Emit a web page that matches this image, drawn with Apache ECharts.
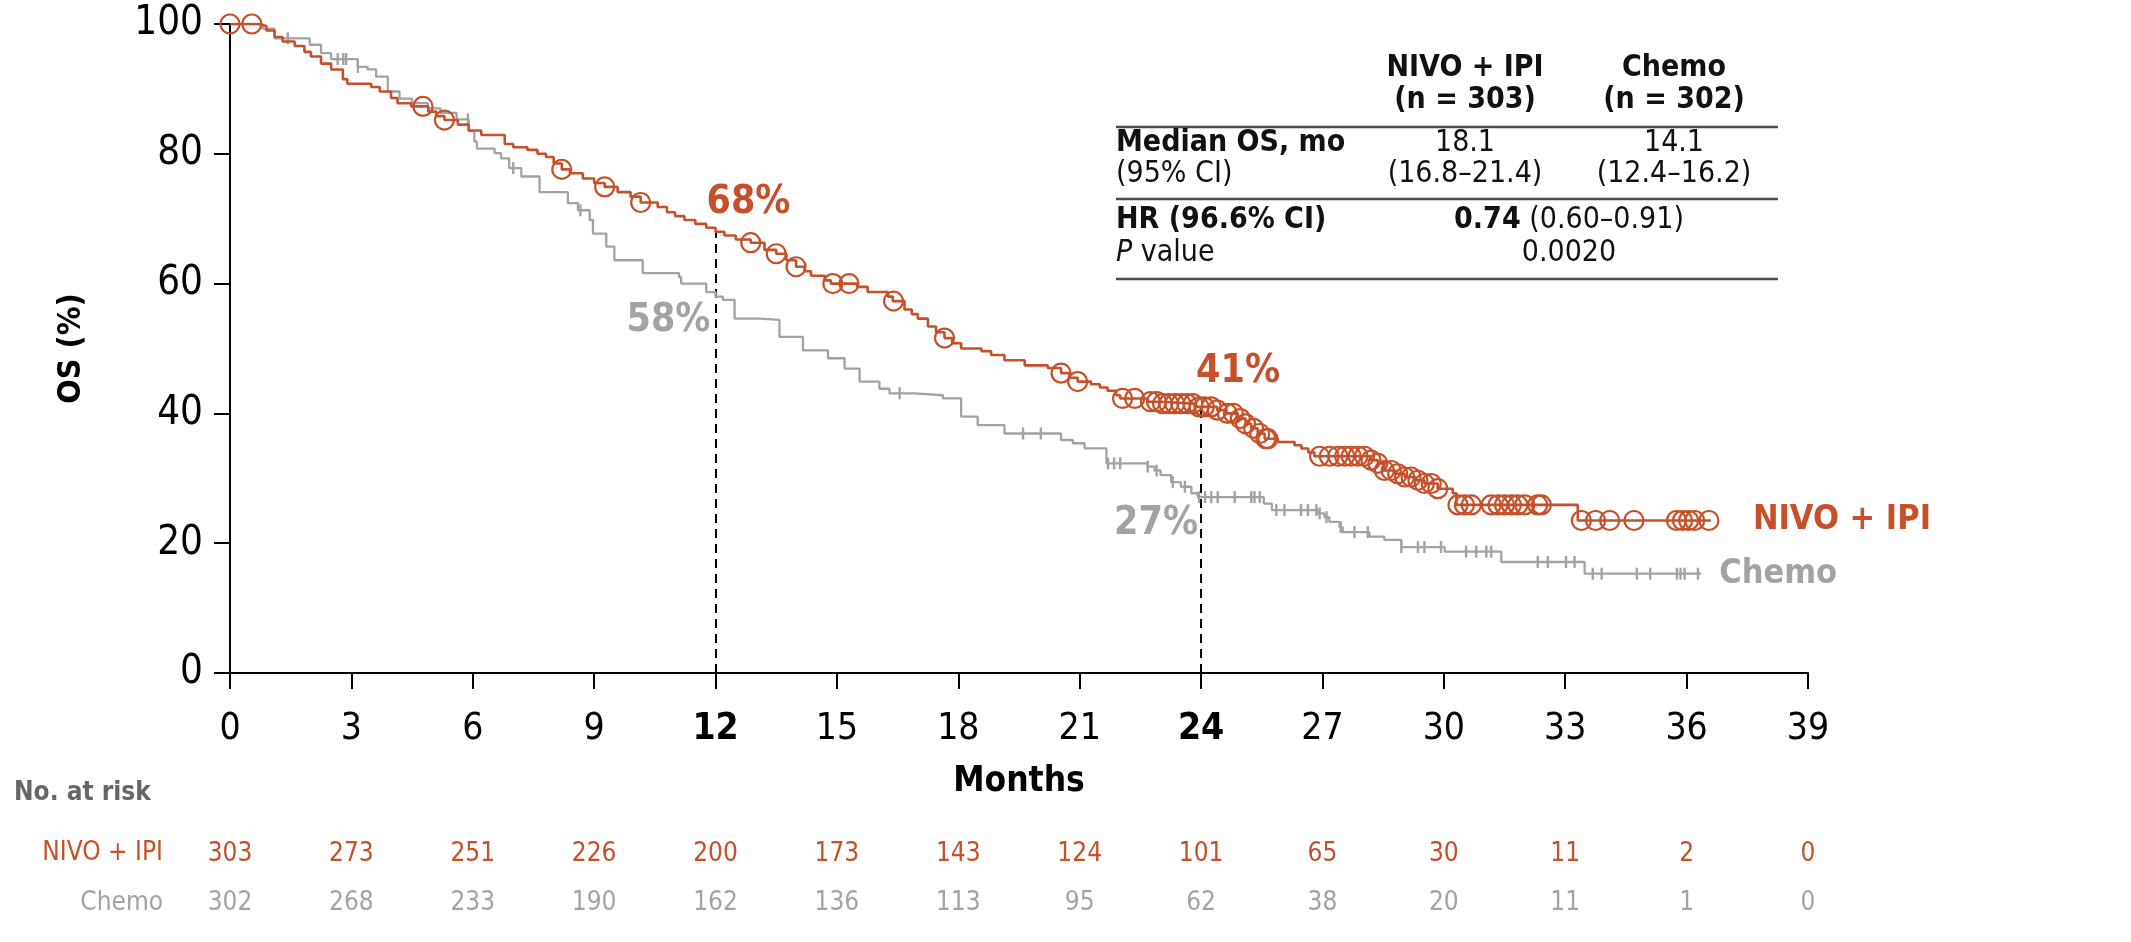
<!DOCTYPE html>
<html>
<head>
<meta charset="utf-8">
<title>Overall survival – NIVO + IPI vs Chemo</title>
<script src="https://cdn.jsdelivr.net/npm/echarts@6/dist/echarts.min.js"></script>
<style>
  html, body { margin: 0; padding: 0; background: #ffffff; }
  #chart { width: 2131px; height: 942px; }
</style>
</head>
<body>
<div id="chart"></div>
<script>
// ---- Kaplan–Meier data: [month, survival %] after each drop ----
const nivoSteps = [
  [0,100],[0.7,99.7],[0.9,99.0],[1.1,98.0],[1.3,97.3],[1.6,96.6],[1.84,95.7],[2.0,95.0],[2.25,93.9],
  [2.5,93.0],[2.79,91.5],[2.9,90.8],[3.49,90.3],[3.7,89.6],[3.98,88.6],[4.14,87.8],[4.48,87.3],
  [4.9,86.5],[5.1,85.8],[5.3,85.2],[5.63,84.5],[5.9,83.6],[6.21,82.9],[6.79,81.5],[7.0,81.0],
  [7.35,80.6],[7.6,80.0],[7.81,79.5],[8.0,78.5],[8.2,77.6],[8.4,77.0],[8.72,76.2],[9.0,75.5],
  [9.26,74.9],[9.58,74.1],[9.9,73.4],[10.15,72.5],[10.57,71.8],[10.8,71.0],[11.0,70.4],[11.23,69.8],
  [11.5,69.2],[11.77,68.6],[12.0,68.0],[12.22,67.4],[12.5,66.8],[12.87,66.3],[13.21,65.2],[13.5,64.6],
  [13.75,63.6],[13.99,62.6],[14.2,61.9],[14.36,61.2],[14.7,60.5],[14.85,60.0],[15.5,59.5],[15.76,58.7],
  [16.26,58.0],[16.38,57.3],[16.67,56.0],[16.85,55.3],[17.0,54.6],[17.25,53.4],[17.45,52.5],[17.66,51.6],
  [17.85,50.8],[18.07,50.0],[18.57,49.6],[18.81,49.0],[19.14,48.2],[19.64,47.4],[20.21,47.0],[20.54,46.2],
  [20.75,45.5],[20.95,44.9],[21.28,44.5],[21.5,44.0],[21.69,43.5],[21.9,42.8],[22.0,42.3],[22.68,41.8],
  [23.0,41.5],[23.84,41.0],[24.4,40.5],[24.6,40.0],[24.91,39.2],[25.1,38.4],[25.24,37.7],[25.4,36.9],
  [25.57,36.1],[25.9,35.6],[26.31,35.1],[26.48,34.6],[26.65,34.0],[26.8,33.4],[28.2,32.8],[28.37,32.3],
  [28.53,31.2],[28.8,30.7],[29.03,30.2],[29.3,29.7],[29.52,29.2],[29.85,28.4],[30.22,27.7],[30.31,25.9],
  [33.31,23.5],[36.6,23.5]
];
const chemoSteps = [
  [0,100],[0.8,99.3],[1.1,97.8],[1.97,96.8],[2.25,95.5],[2.5,94.6],[3.16,93.4],[3.4,93.0],[3.61,91.9],
  [3.9,89.6],[4.19,88.5],[4.5,87.8],[4.89,87.0],[5.2,86.3],[5.6,85.3],[5.9,83.5],[6.04,81.9],[6.1,80.8],
  [6.54,80.1],[6.7,79.3],[6.9,77.8],[7.2,76.5],[7.65,74.1],[8.35,72.4],[8.6,71.3],[8.89,69.8],[8.97,67.7],
  [9.3,65.7],[9.5,63.6],[10.2,61.6],[11.1,61.0],[11.15,60.0],[11.77,58.7],[12.0,58.0],[12.18,57.5],
  [12.47,54.6],[13.09,54.4],[13.58,51.8],[14.16,49.7],[14.78,48.5],[15.19,46.9],[15.56,44.9],[16.05,43.8],
  [16.3,43.1],[16.92,42.8],[17.62,42.3],[18.07,39.5],[18.48,38.2],[19.14,36.9],[20.54,35.9],[20.83,35.4],
  [21.12,34.6],[21.66,32.3],[22.68,31.8],[22.85,31.2],[23.0,30.5],[23.26,29.4],[23.5,28.7],[23.76,27.7],
  [23.92,27.1],[25.55,26.1],[25.75,25.1],[26.88,24.6],[27.05,24.0],[27.17,23.3],[27.42,22.5],[27.5,21.7],
  [28.16,21.0],[28.53,20.5],[28.95,19.4],[30.02,18.7],[31.42,17.1],[33.48,15.3],[36.36,15.3]
];

// ---- censoring times (months) ----
const nivoCensored = [
  0, 0.54, 4.77, 5.3, 8.2, 9.26, 10.15, 12.87, 13.5, 13.99, 14.9, 15.3, 16.4, 17.66, 20.54, 20.95,
  22.06, 22.36, 22.75, 22.9, 23.05, 23.2, 23.35, 23.5, 23.65, 23.8, 23.95, 24.08, 24.25, 24.4, 24.65,
  24.8, 24.97, 25.1, 25.3, 25.45, 25.6, 25.65, 26.93, 27.17, 27.38, 27.55, 27.71, 27.88, 28.04, 28.2,
  28.37, 28.53, 28.7, 28.86, 29.03, 29.19, 29.36, 29.52, 29.69, 29.85, 30.35, 30.51, 30.68, 31.17,
  31.34, 31.5, 31.67, 31.83, 32.0, 32.32, 32.41, 33.4, 33.75, 34.1, 34.7, 35.75, 35.9, 36.05, 36.2, 36.55
];
const chemoCensored = [
  1.43, 2.66, 2.8, 2.87, 3.16, 5.88, 7.0, 8.66, 16.55, 19.6, 20.04, 21.7, 21.85, 22.0, 22.68, 22.9,
  23.3, 23.6, 23.95, 24.1, 24.25, 24.41, 24.83, 25.24, 25.32, 25.45, 25.86, 26.06, 26.47, 26.64, 26.85,
  26.93, 27.1, 27.45, 27.79, 28.12, 28.95, 29.36, 29.52, 29.93, 30.55, 30.8, 31.05, 31.17, 32.32, 32.57,
  33.02, 33.23, 33.68, 33.9, 34.77, 35.1, 35.76, 35.85, 35.95, 36.28
];

// ---- landmark survival rates ----
const landmarkMonths = [12, 24];
const nivoLandmark = [68, 41];
const chemoLandmark = [58, 27];

// ---- axes and number at risk ----
const monthTicks = [0, 3, 6, 9, 12, 15, 18, 21, 24, 27, 30, 33, 36, 39];
const osTicks = [0, 20, 40, 60, 80, 100];
const riskNivo = [303, 273, 251, 226, 200, 173, 143, 124, 101, 65, 30, 11, 2, 0];
const riskChemo = [302, 268, 233, 190, 162, 136, 113, 95, 62, 38, 20, 11, 1, 0];

const ORANGE = '#C6502A';
const GRAY = '#A3A3A3';
const FONT = "'DejaVu Sans Condensed', 'DejaVu Sans', sans-serif";

// survival value in effect at time t on a step curve
function survivalAt(steps, t) {
  let v = steps[0][1];
  for (const [tt, s] of steps) { if (tt <= t) v = s; else break; }
  return v;
}

const chart = echarts.init(document.getElementById('chart'), null, { renderer: 'canvas' });

const riskAxis = (values, color, offset) => ({
  type: 'value', gridIndex: 0, position: 'bottom', offset: offset,
  min: monthTicks[0], max: monthTicks[monthTicks.length - 1], interval: 3,
  axisLine: { show: false }, axisTick: { show: false }, splitLine: { show: false },
  axisLabel: {
    margin: 0, fontFamily: FONT, fontSize: 26, color: color,
    formatter: v => String(values[monthTicks.indexOf(v)])
  }
});

const tableLine = (y) => ({
  type: 'line', shape: { x1: 1116, y1: y, x2: 1778, y2: y },
  style: { stroke: '#4d4d4d', lineWidth: 2.5 }
});
const tableText = (text, x, y, opts) => ({
  type: 'text', x: x, y: y,
  style: Object.assign({
    text: text, fontFamily: FONT, fontSize: 30, fill: '#111',
    align: 'left', verticalAlign: 'middle'
  }, opts || {})
});

const option = {
  backgroundColor: '#ffffff',
  animation: false,
  grid: { left: 230, right: 323, top: 24, bottom: 269, containLabel: false },
  xAxis: [
    {
      type: 'value', min: monthTicks[0], max: monthTicks[monthTicks.length - 1], interval: 3,
      name: 'Months', nameLocation: 'middle', nameGap: 91,
      nameTextStyle: { fontFamily: FONT, fontSize: 35, fontWeight: 'bold', color: '#000' },
      axisLine: { lineStyle: { color: '#000', width: 2 } },
      axisTick: { length: 16, lineStyle: { color: '#000', width: 2 } },
      splitLine: { show: false },
      axisLabel: {
        margin: 38, fontFamily: FONT, fontSize: 37, color: '#000',
        formatter: v => landmarkMonths.includes(v) ? '{b|' + v + '}' : String(v),
        rich: { b: { fontFamily: FONT, fontSize: 37, fontWeight: 'bold', color: '#000' } }
      }
    },
    riskAxis(riskNivo, ORANGE, 168),
    riskAxis(riskChemo, GRAY, 217)
  ],
  yAxis: {
    type: 'value', min: osTicks[0], max: osTicks[osTicks.length - 1], interval: 20,
    name: 'OS (%)', nameLocation: 'middle', nameGap: 142, nameRotate: 90,
    nameTextStyle: { fontFamily: FONT, fontSize: 32, fontWeight: 'bold', color: '#000' },
    axisLine: { lineStyle: { color: '#000', width: 2 } },
    axisTick: { length: 16, lineStyle: { color: '#000', width: 2 } },
    splitLine: { show: false },
    axisLabel: { margin: 27, fontFamily: FONT, fontSize: 40, color: '#000' }
  },
  series: [
    {
      name: 'Chemo', type: 'line', step: 'end', data: chemoSteps,
      showSymbol: false, symbol: 'none', z: 2,
      lineStyle: { color: GRAY, width: 2.3 },
      endLabel: {
        show: true, formatter: 'Chemo', distance: 18,
        fontFamily: FONT, fontSize: 34, fontWeight: 'bold', color: GRAY
      }
    },
    {
      name: 'Chemo censored', type: 'scatter', z: 3,
      data: chemoCensored.map(t => [t, survivalAt(chemoSteps, t)]),
      symbol: 'rect', symbolSize: [2.4, 12],
      itemStyle: { color: GRAY, opacity: 1 }
    },
    {
      name: 'NIVO + IPI', type: 'line', step: 'end', data: nivoSteps,
      showSymbol: false, symbol: 'none', z: 4,
      lineStyle: { color: ORANGE, width: 2.6 },
      endLabel: {
        show: true, formatter: 'NIVO + IPI', distance: 42,
        fontFamily: FONT, fontSize: 34, fontWeight: 'bold', color: ORANGE
      },
      markLine: {
        silent: true, symbol: 'none', z: 1,
        lineStyle: { color: '#000', type: [9, 6], width: 2 },
        label: { show: false },
        data: landmarkMonths.map((m, i) => [{ coord: [m, 0] }, { coord: [m, nivoLandmark[i]] }])
      }
    },
    {
      name: 'NIVO + IPI censored', type: 'scatter', z: 5,
      data: nivoCensored.map(t => [t, survivalAt(nivoSteps, t)]),
      symbol: 'circle', symbolSize: 19,
      itemStyle: { color: 'rgba(0,0,0,0)', borderColor: ORANGE, borderWidth: 2.2, opacity: 1 }
    },
    {
      name: 'NIVO landmark', type: 'scatter', z: 6, silent: true,
      data: landmarkMonths.map((m, i) => [m, nivoLandmark[i]]),
      symbolSize: 0, itemStyle: { opacity: 1 },
      label: {
        show: true, position: 'inside', formatter: p => p.value[1] + '%',
        fontFamily: FONT, fontSize: 39, fontWeight: 'bold', color: ORANGE
      },
      labelLayout: (p) => ({ dx: p.dataIndex === 0 ? 33 : 37, dy: p.dataIndex === 0 ? -29 : -35 })
    },
    {
      name: 'Chemo landmark', type: 'scatter', z: 6, silent: true,
      data: landmarkMonths.map((m, i) => [m, chemoLandmark[i]]),
      symbolSize: 0, itemStyle: { opacity: 1 },
      label: {
        show: true, position: 'inside', formatter: p => p.value[1] + '%',
        fontFamily: FONT, fontSize: 39, fontWeight: 'bold', color: GRAY
      },
      labelLayout: (p) => ({ dx: p.dataIndex === 0 ? -47 : -45, dy: p.dataIndex === 0 ? 24 : 26 })
    }
  ],
  graphic: [
    // number-at-risk row headings
    { type: 'text', x: 14, y: 793, style: { text: 'No. at risk', fontFamily: FONT, fontSize: 26, fontWeight: 'bold', fill: '#666', align: 'left', verticalAlign: 'middle' } },
    { type: 'text', x: 163, y: 853, style: { text: 'NIVO + IPI', fontFamily: FONT, fontSize: 26, fill: ORANGE, align: 'right', verticalAlign: 'middle' } },
    { type: 'text', x: 163, y: 903, style: { text: 'Chemo', fontFamily: FONT, fontSize: 26, fill: GRAY, align: 'right', verticalAlign: 'middle' } },
    // summary table
    tableText('NIVO + IPI', 1465, 68, { align: 'center', fontWeight: 'bold' }),
    tableText('(n = 303)', 1465, 100, { align: 'center', fontWeight: 'bold' }),
    tableText('Chemo', 1674, 68, { align: 'center', fontWeight: 'bold' }),
    tableText('(n = 302)', 1674, 100, { align: 'center', fontWeight: 'bold' }),
    tableLine(127),
    tableText('Median OS, mo', 1116, 143, { fontWeight: 'bold' }),
    tableText('(95% CI)', 1116, 174),
    tableText('18.1', 1465, 143, { align: 'center' }),
    tableText('(16.8–21.4)', 1465, 174, { align: 'center' }),
    tableText('14.1', 1674, 143, { align: 'center' }),
    tableText('(12.4–16.2)', 1674, 174, { align: 'center' }),
    tableLine(199),
    tableText('HR (96.6% CI)', 1116, 220, { fontWeight: 'bold' }),
    tableText('{i|P} value', 1116, 253, { rich: { i: { fontFamily: FONT, fontSize: 30, fontStyle: 'italic', fill: '#111' } } }),
    tableText('{b|0.74} (0.60–0.91)', 1569, 220, { align: 'center', rich: { b: { fontFamily: FONT, fontSize: 30, fontWeight: 'bold', fill: '#111' } } }),
    tableText('0.0020', 1569, 253, { align: 'center' }),
    tableLine(279)
  ]
};

chart.setOption(option);
</script>
</body>
</html>
